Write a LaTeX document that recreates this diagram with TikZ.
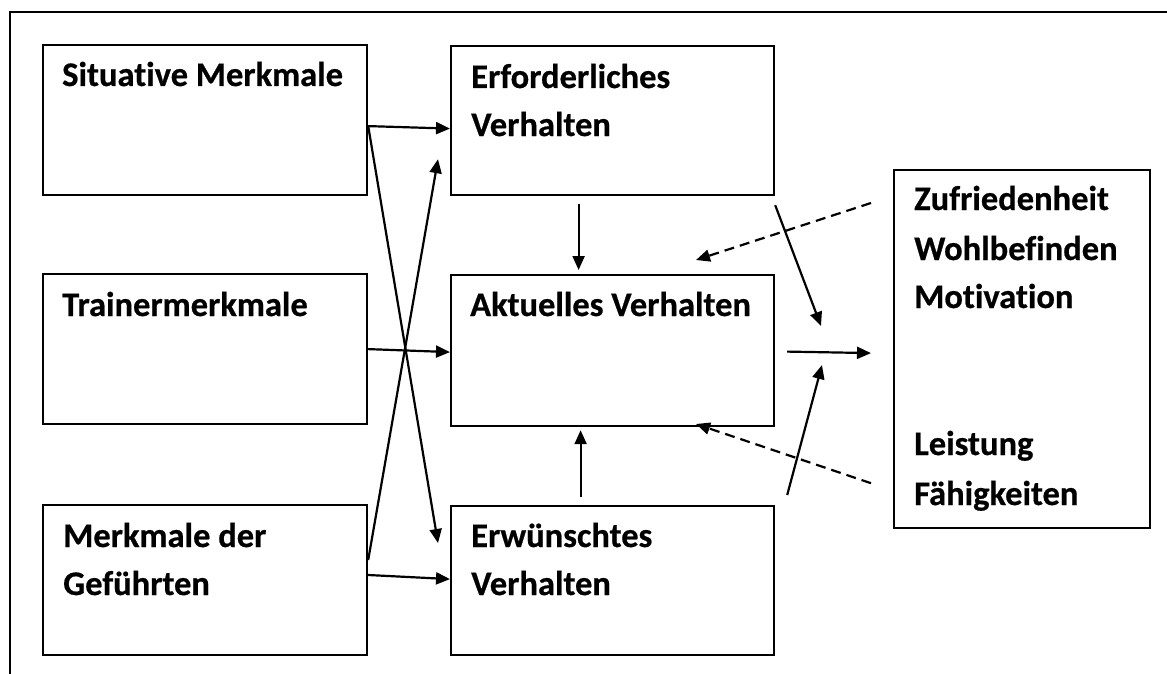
\documentclass[tikz,border=0pt]{standalone}
\usepackage{fontspec}
\setmainfont{Carlito}[Ligatures={NoCommon},BoldFeatures={FakeBold=0.6}]
\usetikzlibrary{arrows.meta,calc}
\begin{document}
\begin{tikzpicture}[x=1pt,y=-1pt,
  box/.style={draw=black,line width=2.2pt,rectangle,inner sep=0pt,anchor=north west},
  lbl/.style={anchor=base west,inner sep=0pt,font=\fontsize{34.5}{40}\selectfont\bfseries},
  arr/.style={line width=2.2pt,-{Triangle[length=14pt,width=12pt]}},
  darr/.style={arr,dash pattern=on 10pt off 6pt}]
\useasboundingbox (0,0) rectangle (1167,674);
% outer frame (top and left only)
\coordinate (fa) at (1167,12);
\coordinate (fb) at (10,12);
\coordinate (fc) at (10,674);
\draw[line width=2pt] (fa) -- (fb) -- (fc);
% boxes
\node[box,minimum width=324,minimum height=150] (sit) at (42,44) {};
\node[box,minimum width=324,minimum height=150] (tra) at (42,273) {};
\node[box,minimum width=324,minimum height=150] (gef) at (42,504) {};
\node[box,minimum width=323,minimum height=149] (erf) at (450,45) {};
\node[box,minimum width=323,minimum height=151] (akt) at (450,274) {};
\node[box,minimum width=323,minimum height=149] (erw) at (450,505) {};
\node[box,minimum width=256,minimum height=358] (res) at (893,169) {};
% labels
\node[lbl] (t1) at (62,86) {Situative Merkmale};
\node[lbl] (t2) at (62,316) {Trainermerkmale};
\node[lbl] (t3a) at (63,547) {Merkmale der};
\node[lbl] (t3b) at (63,595) {Geführten};
\node[lbl] (t4a) at (471,88) {Erforderliches};
\node[lbl] (t4b) at (471,136) {Verhalten};
\node[lbl] (t5) at (470,316) {Aktuelles Verhalten};
\node[lbl] (t6a) at (471,547) {Erwünschtes};
\node[lbl] (t6b) at (471,595) {Verhalten};
\node[lbl] (t7a) at (914,210) {Zufriedenheit};
\node[lbl] (t7b) at (914,260) {Wohlbefinden};
\node[lbl] (t7c) at (914,308) {Motivation};
\node[lbl] (t7d) at (914,455) {Leistung};
\node[lbl] (t7e) at (914,505) {Fähigkeiten};
% arrow end points
\coordinate (s1) at ($(sit.east)+(0,6)$);
\coordinate (e1) at ($(erf.west)+(0,8)$);
\coordinate (e2) at ($(erw.north west)+(-12,38)$);
\coordinate (g1) at ($(gef.north east)+(0,56)$);
\coordinate (g2) at ($(gef.north east)+(0,71)$);
\coordinate (e3) at ($(erf.south west)+(-12,-37)$);
\coordinate (w1) at ($(erw.west)+(0,-1.5)$);
\coordinate (tr1) at ($(tra.east)+(0,0)$);
\coordinate (ak1) at ($(akt.west)+(0,1.5)$);
\coordinate (v1) at ($(erf.south)+(-34,8)$);
\coordinate (v2) at ($(akt.north)+(-34,-4)$);
\coordinate (u1) at ($(erw.north)+(-32,-8)$);
\coordinate (u2) at ($(akt.south)+(-32,3)$);
\coordinate (m1) at ($(akt.east)+(12,1)$);
\coordinate (m2) at ($(res.west)+(-22,4)$);
\coordinate (c1) at ($(erf.south east)+(0,9)$);
\coordinate (c2) at (821,326);
\coordinate (d1) at ($(erw.north east)+(12,-10)$);
\coordinate (d2) at (822,365);
\coordinate (q1) at ($(res.north west)+(-22,34)$);
\coordinate (q2) at (696,260);
\coordinate (r1) at ($(res.south west)+(-22,-46)$);
\coordinate (r2) at (696,424);
% arrows
\draw[arr] (s1) -- (e1);
\draw[arr] (s1) -- (e2);
\draw[arr] (g1) -- (e3);
\draw[arr] (tr1) -- (ak1);
\draw[arr] (g2) -- (w1);
\draw[arr] (v1) -- (v2);
\draw[arr] (u1) -- (u2);
\draw[arr] (m1) -- (m2);
\draw[arr] (c1) -- (c2);
\draw[arr] (d1) -- (d2);
\draw[darr] (q1) -- (q2);
\draw[darr] (r1) -- (r2);
\end{tikzpicture}
\end{document}
